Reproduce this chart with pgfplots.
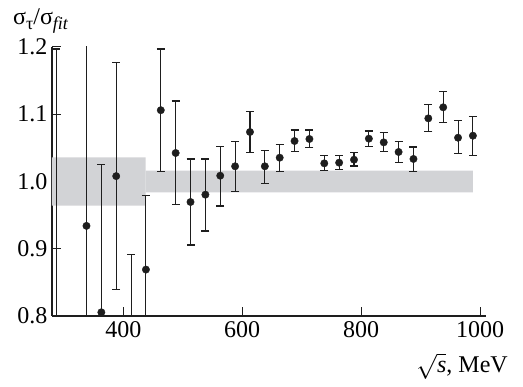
\documentclass[border=0pt]{standalone}
\usepackage{pgfplots}
\pgfplotsset{compat=1.18}
\usepackage{fontspec}
\setmainfont{Liberation Serif}
\definecolor{band}{RGB}{210,211,214}
\definecolor{ink}{RGB}{30,30,30}
\begin{document}
\begin{tikzpicture}
\begin{axis}[
  scale only axis, width=434pt, height=269pt,
  xmin=280, xmax=1010, ymin=0.8, ymax=1.2,
  axis x line*=bottom, axis y line*=left,
  axis line style={ink, line width=1.1pt},
  tick align=inside, major tick length=9pt,
  tick style={ink, line width=1pt},
  xtick={400,600,800,1000},
  ytick={0.8,0.9,1.0,1.1,1.2},
  yticklabels={0.8,0.9,1.0,1.1,1.2},
  minor tick num=0,
  /pgf/number format/assume math mode=true,
  /pgf/number format/set thousands separator={},
  ticklabel style={font=\fontsize{24}{28}\selectfont, text=black},
  xticklabel style={yshift=-2pt},
  yticklabel style={xshift=-1pt},
  clip=true,
]
\addplot[fill=band, draw=none] coordinates {(270,0.964) (437.5,0.964) (437.5,1.036) (270,1.036)} \closedcycle;
\addplot[fill=band, draw=none] coordinates {(437.5,0.984) (988,0.984) (988,1.016) (437.5,1.016)} \closedcycle;
\addplot[only marks, mark=*, mark size=3.7pt, color=ink,
  mark options={fill=ink, draw=ink},
  error bars/.cd, y dir=both, y explicit,
  error bar style={line width=1.1pt, ink},
  error mark=-,
  error mark options={rotate=90, mark size=4pt, line width=1.1pt, ink}]
  table[x=x, y=y, y error plus=ep, y error minus=em] {
x     y       ep      em
287.5 0.70    0.497   0.20
338   0.934   0.30    0.30
363   0.8055  0.220   0.20
388   1.008   0.169   0.169
413   0.75    0.141   0.141
438   0.869   0.110   0.110
463   1.106   0.091   0.091
488   1.0424  0.0773  0.076
513   0.9695  0.064   0.064
538   0.9804  0.053   0.054
563   1.0086  0.044   0.045
588   1.0226  0.037   0.037
613   1.0736  0.031   0.031
638   1.0226  0.024   0.025
663   1.0354  0.0194  0.021
688   1.0602  0.0164  0.016
713   1.0632  0.0134  0.013
738   1.027   0.011   0.011
763   1.028   0.010   0.010
788   1.0324  0.011   0.0094
813   1.0637  0.0114  0.012
838   1.0582  0.0144  0.0134
863   1.0439  0.0153  0.016
888   1.0335  0.0178  0.018
913   1.0939  0.0203  0.020
938   1.1103  0.023   0.023
963   1.0651  0.025   0.024
988   1.0681  0.028   0.029
};
\end{axis}
\node[anchor=base west, inner sep=0pt] at (-39pt,291pt)
  {\fontsize{24}{28}\selectfont σ\raisebox{-5pt}{\fontsize{18}{20}\selectfont τ}/σ\raisebox{-5pt}{\fontsize{18}{20}\selectfont\itshape fit}};
\node[anchor=base east, inner sep=0pt] at (456pt,-57pt)
  {\fontsize{24}{28}\selectfont $\sqrt{\textit{s}}$, MeV};
\pgfresetboundingbox
\path (-52pt,-71pt) rectangle (471pt,316pt);
\end{tikzpicture}
\end{document}
